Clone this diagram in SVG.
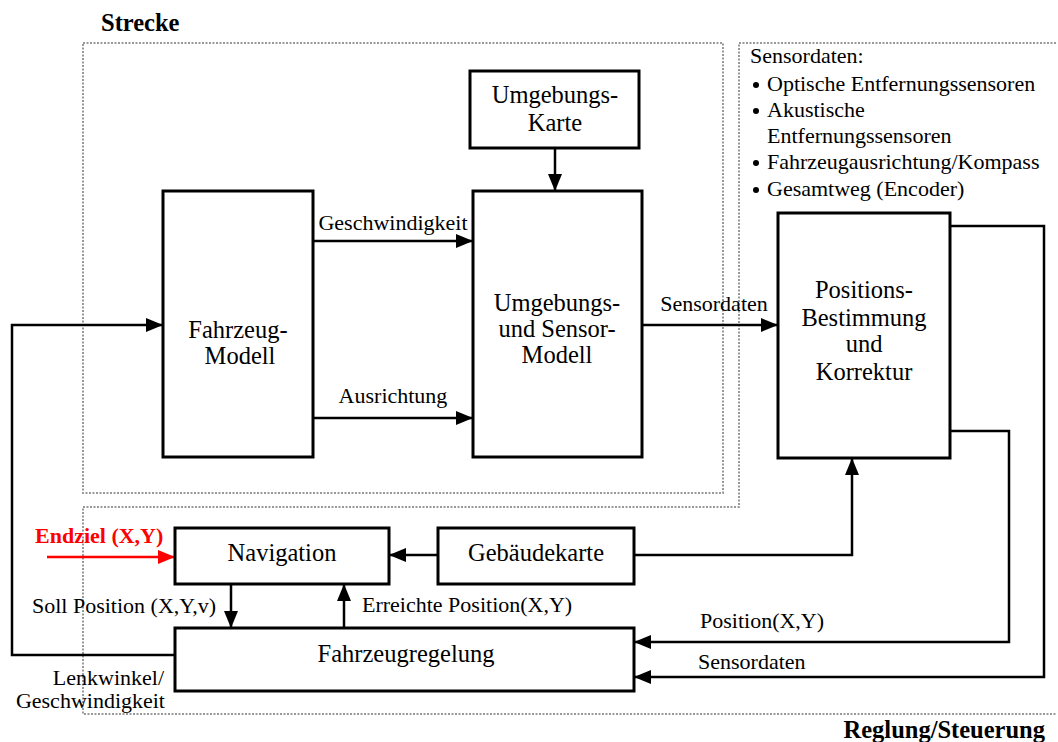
<svg xmlns="http://www.w3.org/2000/svg" width="1058" height="742" viewBox="0 0 1058 742">
<defs>
<marker id="ah" markerUnits="userSpaceOnUse" markerWidth="18" markerHeight="14" refX="17" refY="7" orient="auto"><path d="M0,0 L17,7 L0,14 z" fill="#000"/></marker>
<marker id="ahr" markerUnits="userSpaceOnUse" markerWidth="18" markerHeight="14" refX="17" refY="7" orient="auto"><path d="M0,0 L17,7 L0,14 z" fill="#f00"/></marker>
</defs>
<style>
.box{fill:#fff;stroke:#000;stroke-width:3}
.t{font-family:"Liberation Serif",serif;font-size:24.5px;fill:#000;text-anchor:middle}
.l{font-family:"Liberation Serif",serif;font-size:22px;fill:#000}
.h{font-family:"Liberation Serif",serif;font-size:24.5px;font-weight:bold;fill:#000}
.c{fill:none;stroke:#000;stroke-width:2.5}
.d{fill:none;stroke:#999;stroke-width:2;stroke-dasharray:2,1.5}
</style>
<rect width="1058" height="742" fill="#fff"/>
<g id="regions">
<rect class="d" x="83" y="43" width="640" height="450"/>
<polyline class="d" points="1056,43 739,43 739,507 83,507 83,714 1056,714"/>
<text class="h" x="101" y="31">Strecke</text>
<text class="h" x="1045" y="738" text-anchor="end">Reglung/Steuerung</text>
</g>
<g id="sensorliste">
<text class="l" x="750" y="63">Sensordaten:</text>
<circle cx="756" cy="85" r="3"/><text class="l" x="767" y="91">Optische Entfernungssensoren</text>
<circle cx="756" cy="111" r="3"/><text class="l" x="767" y="117">Akustische</text>
<text class="l" x="767" y="143">Entfernungssensoren</text>
<circle cx="756" cy="163" r="3"/><text class="l" x="767" y="169">Fahrzeugausrichtung/Kompass</text>
<circle cx="756" cy="190" r="3"/><text class="l" x="767" y="196">Gesamtweg (Encoder)</text>
</g>
<g id="connectors">
<line class="c" x1="555" y1="148" x2="555" y2="191" marker-end="url(#ah)"/>
<line class="c" x1="313" y1="241" x2="473" y2="241" marker-end="url(#ah)"/>
<line class="c" x1="313" y1="418" x2="473" y2="418" marker-end="url(#ah)"/>
<line class="c" x1="642" y1="325" x2="778" y2="325" marker-end="url(#ah)"/>
<polyline class="c" points="175,655 12,655 12,325 163,325" marker-end="url(#ah)"/>
<line x1="47" y1="557" x2="175" y2="557" stroke="#f00" stroke-width="2.5" marker-end="url(#ahr)"/>
<line class="c" x1="438" y1="555" x2="389" y2="555" marker-end="url(#ah)"/>
<polyline class="c" points="634,555 852,555 852,458" marker-end="url(#ah)"/>
<line class="c" x1="231" y1="584" x2="231" y2="628" marker-end="url(#ah)"/>
<line class="c" x1="344" y1="628" x2="344" y2="584" marker-end="url(#ah)"/>
<polyline class="c" points="950,431 1009,431 1009,642 634,642" marker-end="url(#ah)"/>
<polyline class="c" points="950,226 1044,226 1044,677 634,677" marker-end="url(#ah)"/>
<text class="l" x="393" y="230" text-anchor="middle">Geschwindigkeit</text>
<text class="l" x="393" y="403" text-anchor="middle">Ausrichtung</text>
<text class="l" x="714" y="311" text-anchor="middle">Sensordaten</text>
<text x="35" y="543" font-family="Liberation Serif,serif" font-size="22" font-weight="bold" fill="#f00">Endziel (X,Y)</text>
<text class="l" x="32" y="613">Soll Position (X,Y,v)</text>
<text class="l" x="362" y="612">Erreichte Position(X,Y)</text>
<text class="l" x="700" y="628">Position(X,Y)</text>
<text class="l" x="698" y="669">Sensordaten</text>
<text class="l" x="164" y="685" text-anchor="end">Lenkwinkel/</text>
<text class="l" x="165" y="708" text-anchor="end">Geschwindigkeit</text>
</g>
<g id="umgebungskarte">
<rect class="box" x="470" y="71" width="169" height="77"/>
<text class="t" x="555" y="103">Umgebungs-</text>
<text class="t" x="555" y="131">Karte</text>
</g>
<g id="fahrzeugmodell">
<rect class="box" x="163" y="191" width="150" height="266"/>
<text class="t" x="238" y="338">Fahrzeug-</text>
<text class="t" x="240" y="364">Modell</text>
</g>
<g id="sensormodell">
<rect class="box" x="473" y="191" width="169" height="266"/>
<text class="t" x="557" y="311">Umgebungs-</text>
<text class="t" x="557" y="337">und Sensor-</text>
<text class="t" x="557" y="363">Modell</text>
</g>
<g id="positionsbestimmung">
<rect class="box" x="778" y="213" width="172" height="245"/>
<text class="t" x="864" y="298">Positions-</text>
<text class="t" x="864" y="326">Bestimmung</text>
<text class="t" x="864" y="352">und</text>
<text class="t" x="864" y="380">Korrektur</text>
</g>
<g id="navigation">
<rect class="box" x="175" y="528" width="214" height="56"/>
<text class="t" x="282" y="561">Navigation</text>
</g>
<g id="gebaeudekarte">
<rect class="box" x="438" y="528" width="196" height="56"/>
<text class="t" x="536" y="561">Gebäudekarte</text>
</g>
<g id="fahrzeugregelung">
<rect class="box" x="175" y="628" width="459" height="63"/>
<text class="t" x="406" y="662">Fahrzeugregelung</text>
</g>
</svg>
